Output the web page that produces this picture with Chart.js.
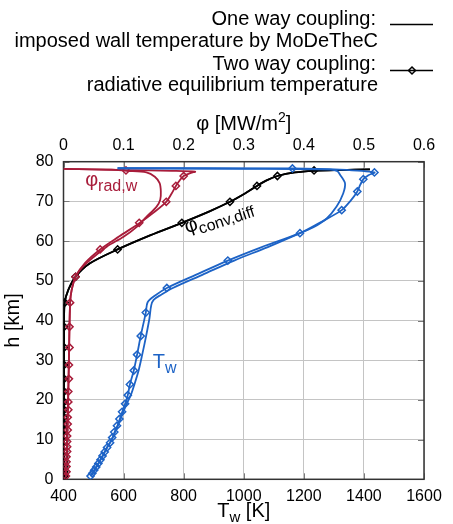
<!DOCTYPE html>
<html><head><meta charset="utf-8">
<script src="https://cdn.jsdelivr.net/npm/chart.js@4/dist/chart.umd.min.js"></script>
<style>html,body{margin:0;padding:0;background:#fff}#wrap{width:453px;height:524px;position:relative}</style>
</head><body><div id="wrap"><canvas id="c"></canvas></div>
<script>
// ---------- axis ranges / ticks ----------
const tempTicks = [400, 600, 800, 1000, 1200, 1400, 1600];   // Tw [K] (bottom)
const phiTicks  = [0, 0.1, 0.2, 0.3, 0.4, 0.5, 0.6];          // phi [MW/m2] (top)
const hTicks    = [0, 10, 20, 30, 40, 50, 60, 70, 80];        // h [km]

// ---------- One way coupling (solid lines) ----------
const oneWayTw_h = [78.35, 78.2, 78.0, 77.6, 76.8, 74.6, 72.0, 68.7, 65.7, 63.5, 62.0, 58.5, 55.1, 51.5, 48.2, 46.5, 45.2, 43.8, 40.5, 36.1, 31.4, 27.4, 23.9, 21.2, 19.0, 16.0, 14.0, 12.0, 9.9, 8.0, 6.0, 4.0, 2.0, 0.8];
const oneWayTw_T = [580, 1000, 1290, 1312, 1320, 1337, 1331, 1309, 1276, 1232, 1187, 1080, 968, 862, 764, 725, 700, 692, 686, 675, 662, 650, 636, 624, 610, 594, 584, 572, 560, 545, 531, 516, 500, 490];

const oneWayRad_h   = [78.2, 78.0, 77.7, 77.3, 76.2, 74.6, 72.5, 70.4, 68.7, 66.1, 63.6, 61.1, 58.6, 55.2, 52.7, 51.0, 47.7, 44.5, 30.0, 15.0, 0.5];
const oneWayRad_phi = [0.0, 0.08, 0.105, 0.138, 0.152, 0.160, 0.162, 0.161, 0.155, 0.138, 0.122, 0.100, 0.072, 0.044, 0.027, 0.020, 0.0136, 0.011, 0.009, 0.007, 0.004];

const oneWayConv_h   = [78.05, 77.9, 77.7, 77.3, 76.4, 75.3, 73.9, 72.0, 69.9, 67.5, 64.6, 61.5, 57.9, 54.4, 51.0, 47.7, 44.5, 40.0, 0.5];
const oneWayConv_phi = [0.51, 0.46, 0.417, 0.385, 0.356, 0.338, 0.322, 0.302, 0.277, 0.243, 0.197, 0.145, 0.090, 0.044, 0.020, 0.008, 0.002, 0.001, 0.001];

// ---------- Two way coupling (lines) ----------
const twoWayTw_h = [78.35, 78.3, 78.0, 77.3, 76.6, 75.6, 74.2, 72.5, 70.2, 67.8, 65.0, 62.0, 58.5, 55.1, 51.5, 48.2, 46.3, 44.6, 42.0, 36.1, 31.4, 27.4, 23.9, 21.2, 19.0, 16.0, 14.0, 12.0, 9.9, 8.0, 6.0, 4.0, 2.0, 0.8];
const twoWayTw_T = [580, 1162, 1320, 1435, 1415, 1398, 1388, 1378, 1356, 1326, 1262, 1187, 1060, 947, 840, 744, 705, 680, 674, 657, 645, 634, 621, 614, 605, 591, 582, 571, 560, 545, 531, 516, 500, 490];

const twoWayRad_h   = [78.2, 78.05, 77.9, 77.7, 77.5, 77.2, 76.4, 75.2, 73.9, 72.0, 69.9, 67.2, 64.5, 61.2, 57.9, 54.5, 51.0, 47.7, 44.5, 30.0, 15.0, 0.5];
const twoWayRad_phi = [0.0, 0.05, 0.104, 0.18, 0.219, 0.212, 0.200, 0.193, 0.187, 0.180, 0.171, 0.150, 0.126, 0.093, 0.061, 0.036, 0.020, 0.0136, 0.011, 0.009, 0.007, 0.004];

const twoWayConv_h   = [78.05, 77.9, 77.7, 77.3, 76.4, 75.3, 73.9, 72.0, 69.9, 67.5, 64.6, 61.5, 57.9, 54.4, 51.0, 47.7, 44.5, 40.0, 0.5];
const twoWayConv_phi = [0.51, 0.46, 0.417, 0.385, 0.356, 0.338, 0.322, 0.302, 0.277, 0.243, 0.197, 0.145, 0.090, 0.044, 0.020, 0.008, 0.002, 0.001, 0.001];

// ---------- Two way coupling (markers) ----------
const twoWayTwMark_h = [78.3, 77.3, 75.6, 72.5, 67.8, 62.0, 55.1, 48.2, 42.0, 36.1, 31.4, 27.4, 23.9, 21.2, 19.0, 17.0, 15.2, 13.5, 11.9, 10.5, 9.2, 8.0, 6.9, 5.9, 4.9, 4.0, 3.1, 2.3, 1.5, 0.8];
const twoWayTwMark_T = [1162, 1435, 1398, 1378, 1326, 1187, 947, 744, 674, 657, 645, 634, 621, 614, 605, 595, 586, 578, 569, 562, 555, 545, 537, 530, 523, 516, 509, 502, 496, 490];

const twoWayPhiMark_h    = [77.8, 76.4, 73.9, 69.9, 64.6, 57.9, 51.0, 44.5, 38.4, 33.2, 28.8, 25.3, 22.1, 19.5, 17.5, 15.6, 13.9, 12.4, 10.9, 9.5, 8.2, 7.0, 5.7, 4.4, 3.2, 1.9, 0.8];
const twoWayRadMark_phi  = [0.104, 0.200, 0.187, 0.171, 0.126, 0.061, 0.020, 0.011, 0.010, 0.010, 0.009, 0.009, 0.008, 0.008, 0.008, 0.007, 0.007, 0.007, 0.006, 0.006, 0.006, 0.006, 0.005, 0.005, 0.005, 0.005, 0.004];
const twoWayConvMark_phi = [0.417, 0.356, 0.322, 0.277, 0.197, 0.090, 0.020, 0.002, 0.001, 0.001, 0.001, 0.001, 0.001, 0.001, 0.001, 0.001, 0.001, 0.001, 0.001, 0.001, 0.001, 0.001, 0.001, 0.001, 0.001, 0.001, 0.001];

// ---------- styling ----------
const FONT = '"Liberation Sans", Arial, Helvetica, sans-serif';
const BLUE = '#1d63c6';
const RED = '#a81c3a';
const BLACK = '#000000';

function pts(xs, hs) { return hs.map((h, i) => ({ x: xs[i], y: h })); }

function lineDs(xs, hs, color, axis, order) {
  return { data: pts(xs, hs), xAxisID: axis, yAxisID: 'y', showLine: true, borderColor: color,
    borderWidth: 1.8, pointRadius: 0, pointHoverRadius: 0, tension: 0.3, fill: false, order: order };
}
function markDs(xs, hs, color, axis, order) {
  return { data: pts(xs, hs), xAxisID: axis, yAxisID: 'y', showLine: false, borderColor: color,
    backgroundColor: 'rgba(0,0,0,0)', pointStyle: 'rectRot', pointRadius: 3.6, pointBorderWidth: 1.5,
    pointBorderColor: color, pointBackgroundColor: 'rgba(0,0,0,0)', order: order };
}

function textSub(ctx, x, y, parts) {
  let cx = x;
  parts.forEach(p => {
    ctx.font = p[1] + 'px ' + FONT;
    ctx.fillText(p[0], cx, y + (p[2] || 0));
    cx += ctx.measureText(p[0]).width;
  });
  return cx - x;
}
function partsWidth(ctx, parts) {
  let w = 0;
  parts.forEach(p => { ctx.font = p[1] + 'px ' + FONT; w += ctx.measureText(p[0]).width; });
  return w;
}

const deco = {
  id: 'deco',
  beforeDatasetsDraw(chart) {
    const { ctx, chartArea: a, scales } = chart;
    ctx.save();
    ctx.strokeStyle = '#7a7a7a'; ctx.lineWidth = 1;
    ctx.beginPath();
    scales.x.ticks.forEach(t => {
      const px = Math.round(scales.x.getPixelForValue(t.value)) + 0.5;
      ctx.moveTo(px, a.bottom); ctx.lineTo(px, a.bottom - 6);
      ctx.moveTo(px, a.top); ctx.lineTo(px, a.top + 6);
    });
    scales.y.ticks.forEach(t => {
      const py = Math.round(scales.y.getPixelForValue(t.value)) + 0.5;
      ctx.moveTo(a.left, py); ctx.lineTo(a.left + 6, py);
      ctx.moveTo(a.right, py); ctx.lineTo(a.right - 6, py);
    });
    ctx.stroke();
    ctx.strokeStyle = '#333'; ctx.lineWidth = 1.5;
    ctx.strokeRect(a.left, a.top, a.right - a.left, a.bottom - a.top);
    ctx.restore();
  },
  afterDraw(chart) {
    const { ctx, chartArea: a, scales } = chart;
    ctx.save();
    ctx.textBaseline = 'alphabetic';
    ctx.fillStyle = '#000';
    // axis titles
    const cxm = (a.left + a.right) / 2;
    let p = [['T', 20], ['w', 15, 5], [' [K]', 20]];
    textSub(ctx, cxm - partsWidth(ctx, p) / 2, 517, p);
    p = [['φ [MW/m', 20], ['2', 14, -8], [']', 20]];
    textSub(ctx, cxm - partsWidth(ctx, p) / 2, 130, p);
    ctx.save();
    ctx.translate(19, (a.top + a.bottom) / 2);
    ctx.rotate(-Math.PI / 2);
    ctx.font = '20px ' + FONT; ctx.textAlign = 'center';
    ctx.fillText('h [km]', 0, 0);
    ctx.restore();

    // legend
    ctx.font = '20px ' + FONT; ctx.textAlign = 'right';
    ctx.fillText('One way coupling:', 376, 25);
    ctx.fillText('imposed wall temperature by MoDeTheC', 378, 47);
    ctx.fillText('Two way coupling:', 376, 70);
    ctx.fillText('radiative equilibrium temperature', 378, 91);
    ctx.strokeStyle = '#000'; ctx.lineWidth = 1.5;
    ctx.beginPath(); ctx.moveTo(390, 24.5); ctx.lineTo(433, 24.5); ctx.stroke();
    ctx.beginPath(); ctx.moveTo(390, 70.5); ctx.lineTo(433, 70.5); ctx.stroke();
    ctx.beginPath(); ctx.moveTo(412, 67); ctx.lineTo(415.5, 70.5); ctx.lineTo(412, 74); ctx.lineTo(408.5, 70.5); ctx.closePath();
    ctx.lineWidth = 1.5; ctx.stroke();

    // curve annotations
    ctx.textAlign = 'left';
    ctx.fillStyle = RED;
    textSub(ctx, scales.x2.getPixelForValue(0.036), scales.y.getPixelForValue(73.9),
      [['φ', 20], ['rad,w', 16, 5]]);
    ctx.fillStyle = BLACK;
    ctx.save();
    ctx.translate(scales.x2.getPixelForValue(0.205), scales.y.getPixelForValue(62.0));
    ctx.rotate(-18 * Math.PI / 180);
    textSub(ctx, 0, 0, [['φ', 20], ['conv,diff', 16, 5]]);
    ctx.restore();
    ctx.fillStyle = BLUE;
    textSub(ctx, scales.x.getPixelForValue(697), scales.y.getPixelForValue(28.0),
      [['T', 20], ['w', 16, 5]]);
    ctx.restore();
  }
};

const gridOpts = { color: '#c4c4c4', borderDash: [2, 3], lineWidth: 1, drawTicks: false };

new Chart(document.getElementById('c'), {
  type: 'scatter',
  data: {
    datasets: [
      lineDs(oneWayTw_T, oneWayTw_h, BLUE, 'x', 1),
      lineDs(twoWayTw_T, twoWayTw_h, BLUE, 'x', 1),
      markDs(twoWayTwMark_T, twoWayTwMark_h, BLUE, 'x', 1),
      lineDs(oneWayRad_phi, oneWayRad_h, RED, 'x2', 2),
      lineDs(twoWayRad_phi, twoWayRad_h, RED, 'x2', 2),
      markDs(twoWayRadMark_phi, twoWayPhiMark_h, RED, 'x2', 2),
      lineDs(oneWayConv_phi, oneWayConv_h, BLACK, 'x2', 3),
      lineDs(twoWayConv_phi, twoWayConv_h, BLACK, 'x2', 3),
      markDs(twoWayConvMark_phi, twoWayPhiMark_h, BLACK, 'x2', 3)
    ]
  },
  options: {
    responsive: true, maintainAspectRatio: false, animation: false, devicePixelRatio: 1,
    layout: { padding: { left: 0, right: 29, top: 0, bottom: 0 } },
    plugins: { legend: { display: false }, tooltip: { enabled: false } },
    events: [],
    scales: {
      x: {
        type: 'linear', position: 'bottom',
        min: tempTicks[0], max: tempTicks[tempTicks.length - 1],
        afterFit: s => { s.height = 44.7; },
        afterBuildTicks: s => { s.ticks = tempTicks.map(v => ({ value: v })); },
        ticks: { color: '#000', font: { family: FONT, size: 16 }, padding: 8, maxRotation: 0, autoSkip: false,
          callback: v => String(v) },
        grid: gridOpts, border: { display: false }
      },
      x2: {
        type: 'linear', position: 'top',
        min: phiTicks[0], max: phiTicks[phiTicks.length - 1],
        afterFit: s => { s.height = 161.7; },
        afterBuildTicks: s => { s.ticks = phiTicks.map(v => ({ value: v })); },
        ticks: { color: '#000', font: { family: FONT, size: 16 }, padding: 7, maxRotation: 0, autoSkip: false,
          callback: v => (v === 0 ? '0' : Number(v).toFixed(1)) },
        grid: { display: false, drawTicks: false }, border: { display: false }
      },
      y: {
        type: 'linear', position: 'left',
        min: hTicks[0], max: hTicks[hTicks.length - 1],
        afterFit: s => { s.width = 63.5; },
        afterBuildTicks: s => { s.ticks = hTicks.map(v => ({ value: v })); },
        ticks: { color: '#000', font: { family: FONT, size: 16 }, padding: 10, autoSkip: false,
          callback: v => String(v) },
        grid: gridOpts, border: { display: false }
      }
    }
  },
  plugins: [deco]
});
</script></body></html>
